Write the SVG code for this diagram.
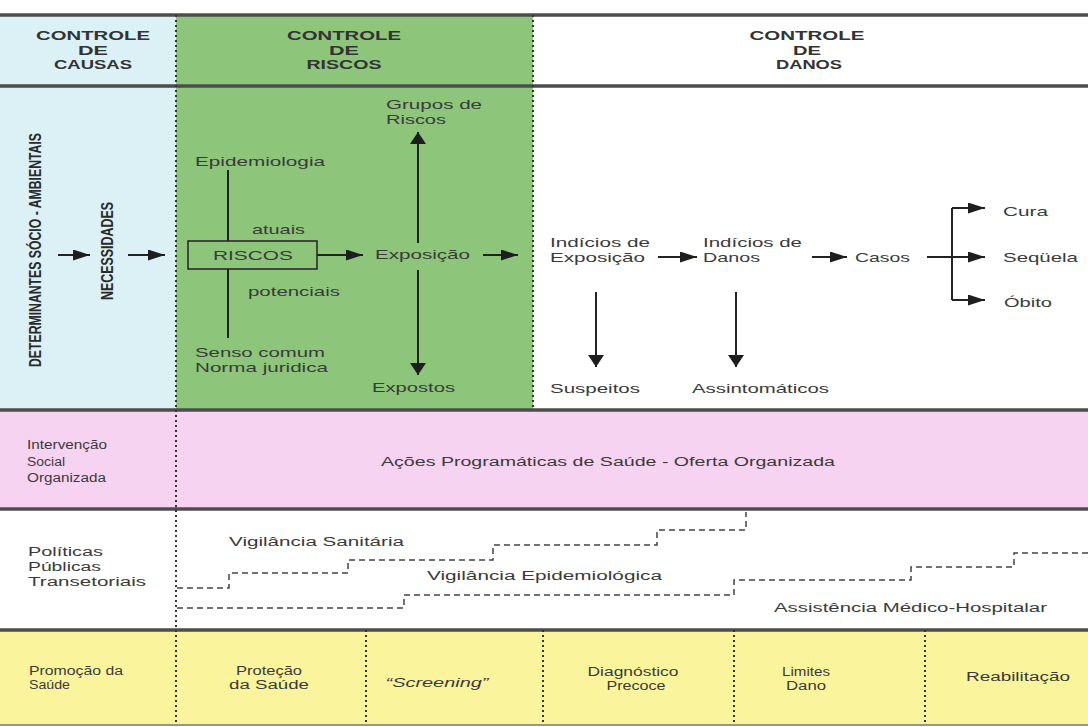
<svg xmlns="http://www.w3.org/2000/svg" width="1088" height="727" viewBox="0 0 1088 727">
<defs>
<marker id="mh" markerUnits="userSpaceOnUse" markerWidth="17" markerHeight="11" refX="17" refY="5.5" orient="auto"><path d="M0,0 L17,5.5 L0,11 z" fill="#1e1e1e"/></marker>
<marker id="mv" markerUnits="userSpaceOnUse" markerWidth="12" markerHeight="16" refX="12" refY="8" orient="auto"><path d="M0,0 L12,8 L0,16 z" fill="#1e1e1e"/></marker>
<style>
.t{font-family:"Liberation Sans",Arial,sans-serif;font-size:13px;fill:#3a3a3a}
.s{font-family:"Liberation Sans",Arial,sans-serif;font-size:12px;fill:#3a3a3a}
.h{font-family:"Liberation Sans",Arial,sans-serif;font-size:12px;font-weight:bold;fill:#333;text-anchor:middle}
.v{font-family:"Liberation Sans",Arial,sans-serif;font-size:17px;font-weight:bold;fill:#2a2a2a;text-anchor:middle}
.m{text-anchor:middle}
.i{font-style:italic}
.ln{stroke:#222;stroke-width:2;fill:none}
.ah{marker-end:url(#mh)}
.av{marker-end:url(#mv)}
.band{stroke:#4d4d4d;stroke-width:3.5}
.thin{stroke:#777;stroke-width:1.5}
.dot{stroke:#333;stroke-width:2;stroke-dasharray:2 3}
.dash{stroke:#444;stroke-width:1.5;fill:none;stroke-dasharray:6 4}
</style>
</defs>

<g id="backgrounds">
<rect x="0" y="15" width="176" height="395" fill="#dcf1f6"/>
<rect x="176" y="15" width="357" height="395" fill="#8dc67b"/>
<rect x="533" y="15" width="555" height="395" fill="#ffffff"/>
<rect x="0" y="410" width="1088" height="99" fill="#f7d3f2"/>
<rect x="0" y="509" width="1088" height="121" fill="#ffffff"/>
<rect x="0" y="630" width="1088" height="96" fill="#faf59c"/>
</g>

<g id="grid">
<line class="band" x1="0" y1="15" x2="1088" y2="15"/>
<line class="band" x1="0" y1="86" x2="1088" y2="86"/>
<line class="band" x1="0" y1="410" x2="1088" y2="410"/>
<line class="band" x1="0" y1="509" x2="1088" y2="509"/>
<line class="band" x1="0" y1="630" x2="1088" y2="630"/>
<line class="thin" x1="0" y1="725" x2="1088" y2="725"/>
<line class="dot" x1="176" y1="15" x2="176" y2="725"/>
<line class="dot" x1="533" y1="15" x2="533" y2="410"/>
<line class="dot" x1="366" y1="630" x2="366" y2="725"/>
<line class="dot" x1="543" y1="630" x2="543" y2="725"/>
<line class="dot" x1="734" y1="630" x2="734" y2="725"/>
<line class="dot" x1="925" y1="630" x2="925" y2="725"/>
</g>

<g id="header-causas">
<text class="h" x="93" y="40" textLength="114" lengthAdjust="spacingAndGlyphs">CONTROLE</text>
<text class="h" x="93" y="55" textLength="30" lengthAdjust="spacingAndGlyphs">DE</text>
<text class="h" x="93" y="69" textLength="78" lengthAdjust="spacingAndGlyphs">CAUSAS</text>
</g>
<g id="header-riscos">
<text class="h" x="344" y="40" textLength="114" lengthAdjust="spacingAndGlyphs">CONTROLE</text>
<text class="h" x="344" y="55" textLength="30" lengthAdjust="spacingAndGlyphs">DE</text>
<text class="h" x="344" y="69" textLength="75" lengthAdjust="spacingAndGlyphs">RISCOS</text>
</g>
<g id="header-danos">
<text class="h" x="807" y="40" textLength="115" lengthAdjust="spacingAndGlyphs">CONTROLE</text>
<text class="h" x="807" y="55" textLength="28" lengthAdjust="spacingAndGlyphs">DE</text>
<text class="h" x="809" y="69" textLength="66" lengthAdjust="spacingAndGlyphs">DANOS</text>
</g>

<g id="determinantes"><text class="v" transform="translate(41,250) rotate(-90)" textLength="234" lengthAdjust="spacingAndGlyphs">DETERMINANTES SÓCIO - AMBIENTAIS</text></g>
<g id="necessidades"><text class="v" transform="translate(113,251) rotate(-90)" textLength="98" lengthAdjust="spacingAndGlyphs">NECESSIDADES</text></g>

<g id="epidemiologia"><text class="t" x="195" y="166" textLength="130" lengthAdjust="spacingAndGlyphs">Epidemiologia</text></g>
<g id="atuais"><text class="t" x="252" y="234" textLength="53" lengthAdjust="spacingAndGlyphs">atuais</text></g>
<g id="riscos"><rect x="188" y="241" width="129" height="28" fill="none" stroke="#2a2a2a" stroke-width="1.6"/><text class="t" x="213" y="260" textLength="80" lengthAdjust="spacingAndGlyphs">RISCOS</text></g>
<g id="potenciais"><text class="t" x="248" y="296" textLength="92" lengthAdjust="spacingAndGlyphs">potenciais</text></g>
<g id="senso"><text class="t" x="195" y="357" textLength="130" lengthAdjust="spacingAndGlyphs">Senso comum</text><text class="t" x="195" y="372" textLength="133" lengthAdjust="spacingAndGlyphs">Norma juridica</text></g>
<g id="grupos"><text class="t" x="386" y="109" textLength="96" lengthAdjust="spacingAndGlyphs">Grupos de</text><text class="t" x="386" y="124" textLength="60" lengthAdjust="spacingAndGlyphs">Riscos</text></g>
<g id="exposicao"><text class="t" x="375" y="259" textLength="95" lengthAdjust="spacingAndGlyphs">Exposição</text></g>
<g id="expostos"><text class="t" x="372" y="392" textLength="83" lengthAdjust="spacingAndGlyphs">Expostos</text></g>

<g id="indicios-exposicao"><text class="t" x="550" y="247" textLength="100" lengthAdjust="spacingAndGlyphs">Indícios de</text><text class="t" x="550" y="262" textLength="95" lengthAdjust="spacingAndGlyphs">Exposição</text></g>
<g id="indicios-danos"><text class="t" x="703" y="247" textLength="99" lengthAdjust="spacingAndGlyphs">Indícios de</text><text class="t" x="703" y="262" textLength="57" lengthAdjust="spacingAndGlyphs">Danos</text></g>
<g id="casos"><text class="t" x="855" y="262" textLength="55" lengthAdjust="spacingAndGlyphs">Casos</text></g>
<g id="cura"><text class="t" x="1003" y="216" textLength="45" lengthAdjust="spacingAndGlyphs">Cura</text></g>
<g id="sequela"><text class="t" x="1003" y="262" textLength="75" lengthAdjust="spacingAndGlyphs">Seqüela</text></g>
<g id="obito"><text class="t" x="1004" y="307" textLength="48" lengthAdjust="spacingAndGlyphs">Óbito</text></g>
<g id="suspeitos"><text class="t" x="550" y="393" textLength="90" lengthAdjust="spacingAndGlyphs">Suspeitos</text></g>
<g id="assintomaticos"><text class="t" x="692" y="393" textLength="137" lengthAdjust="spacingAndGlyphs">Assintomáticos</text></g>

<g id="connectors">
<line class="ln ah" x1="58" y1="255" x2="90" y2="255"/>
<line class="ln ah" x1="128" y1="255" x2="165" y2="255"/>
<line class="ln" x1="228" y1="170" x2="228" y2="241"/>
<line class="ln" x1="228" y1="269" x2="228" y2="338"/>
<line class="ln ah" x1="317" y1="255" x2="363" y2="255"/>
<line class="ln ah" x1="483" y1="255" x2="518" y2="255"/>
<line class="ln av" x1="418" y1="243" x2="418" y2="132"/>
<line class="ln av" x1="418" y1="270" x2="418" y2="375"/>
<line class="ln ah" x1="658" y1="257" x2="697" y2="257"/>
<line class="ln ah" x1="812" y1="257" x2="847" y2="257"/>
<line class="ln ah" x1="927" y1="257" x2="985" y2="257"/>
<line class="ln" x1="952" y1="208" x2="952" y2="300"/>
<line class="ln ah" x1="952" y1="208" x2="985" y2="208"/>
<line class="ln ah" x1="952" y1="300" x2="985" y2="300"/>
<line class="ln av" x1="596" y1="292" x2="596" y2="367"/>
<line class="ln av" x1="736" y1="292" x2="736" y2="367"/>
</g>

<g id="intervencao"><text class="s" x="27" y="449" textLength="80" lengthAdjust="spacingAndGlyphs">Intervenção</text><text class="s" x="27" y="466" textLength="38" lengthAdjust="spacingAndGlyphs">Social</text><text class="s" x="27" y="482" textLength="79" lengthAdjust="spacingAndGlyphs">Organizada</text></g>
<g id="acoes"><text class="s" x="381" y="466" textLength="454" lengthAdjust="spacingAndGlyphs">Ações Programáticas de Saúde - Oferta Organizada</text></g>

<g id="politicas"><text class="s" x="28" y="556" textLength="75" lengthAdjust="spacingAndGlyphs">Políticas</text><text class="s" x="28" y="571" textLength="73" lengthAdjust="spacingAndGlyphs">Públicas</text><text class="s" x="28" y="586" textLength="118" lengthAdjust="spacingAndGlyphs">Transetoriais</text></g>
<g id="vig-sanitaria"><text class="s" x="229" y="546" textLength="175" lengthAdjust="spacingAndGlyphs">Vigilância Sanitária</text><path class="dash" d="M177,588 H229 V573 H348 V560 H493 V545 H657 V530 H746 V512"/></g>
<g id="vig-epidemiologica"><text class="s" x="427" y="580" textLength="235" lengthAdjust="spacingAndGlyphs">Vigilância Epidemiológica</text><path class="dash" d="M177,608 H404 V595 H734 V580 H911 V567 H1014 V553 H1088"/></g>
<g id="assistencia"><text class="s" x="774" y="612" textLength="273" lengthAdjust="spacingAndGlyphs">Assistência Médico-Hospitalar</text></g>

<g id="promocao"><text class="s" x="29" y="675" textLength="94" lengthAdjust="spacingAndGlyphs">Promoção da</text><text class="s" x="29" y="689" textLength="41" lengthAdjust="spacingAndGlyphs">Saúde</text></g>
<g id="protecao"><text class="s m" x="269" y="675" textLength="66" lengthAdjust="spacingAndGlyphs">Proteção</text><text class="s m" x="269" y="689" textLength="80" lengthAdjust="spacingAndGlyphs">da Saúde</text></g>
<g id="screening"><text class="s m i" x="437" y="687" textLength="103" lengthAdjust="spacingAndGlyphs">“Screening”</text></g>
<g id="diagnostico"><text class="s m" x="633" y="676" textLength="91" lengthAdjust="spacingAndGlyphs">Diagnóstico</text><text class="s m" x="636" y="690" textLength="59" lengthAdjust="spacingAndGlyphs">Precoce</text></g>
<g id="limites"><text class="s m" x="806" y="676" textLength="48" lengthAdjust="spacingAndGlyphs">Limites</text><text class="s m" x="806" y="690" textLength="40" lengthAdjust="spacingAndGlyphs">Dano</text></g>
<g id="reabilitacao"><text class="s m" x="1018" y="681" textLength="104" lengthAdjust="spacingAndGlyphs">Reabilitação</text></g>
</svg>
